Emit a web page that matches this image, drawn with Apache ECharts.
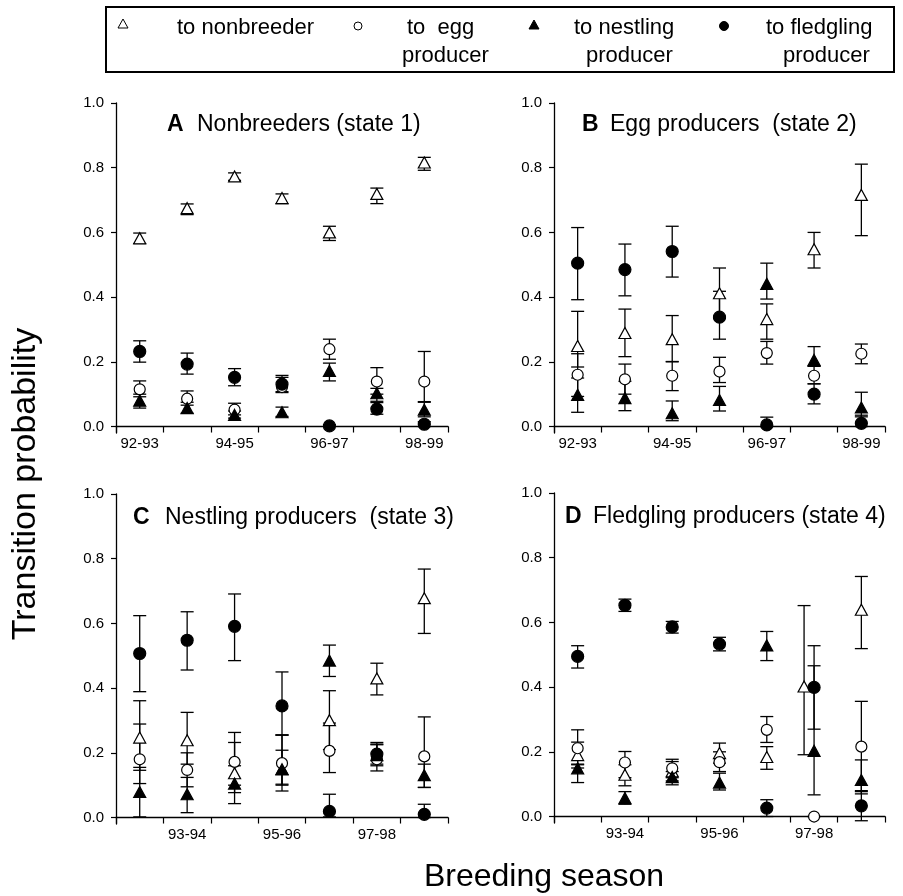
<!DOCTYPE html>
<html>
<head>
<meta charset="utf-8">
<script src="https://cdn.jsdelivr.net/npm/echarts@6/dist/echarts.min.js"></script>
<style>
  html, body { margin: 0; padding: 0; background: #fff; }
  #chart { width: 903px; height: 896px; }
</style>
</head>
<body>
<div id="chart"></div>
<script>
// breeding seasons (x categories)
const seasons = ['92-93', '93-94', '94-95', '95-96', '96-97', '97-98', '98-99']
const yTicks = [0, 0.2, 0.4, 0.6, 0.8, 1.0]

// each entry: [estimate, lower bar, upper bar]
// A  Nonbreeders (state 1)
const aNon   = [[0.582, 0.565, 0.598], [0.675, 0.655, 0.688], [0.773, 0.761, 0.784], [0.706, 0.689, 0.719], [0.600, 0.575, 0.619], [0.719, 0.689, 0.737], [0.816, 0.792, 0.832]]
const aEgg   = [[0.115, 0.092, 0.141], [0.086, 0.066, 0.110], [0.052, 0.036, 0.072], [0.122, 0.105, 0.158], [0.239, 0.208, 0.270], [0.139, 0.100, 0.182], [0.139, 0.077, 0.232]]
const aNest  = [[0.080, 0.057, 0.100], [0.057, 0.041, 0.075], [0.036, 0.026, 0.048], [0.044, 0.031, 0.060], [0.172, 0.141, 0.196], [0.103, 0.078, 0.118], [0.052, 0.030, 0.075]]
const aFledg = [[0.232, 0.199, 0.265], [0.193, 0.162, 0.227], [0.152, 0.126, 0.179], [0.131, 0.108, 0.152], [0.002, 0.000, 0.006], [0.054, 0.038, 0.074], [0.007, 0.000, 0.015]]

// B  Egg producers (state 2)
const bNon   = [[0.249, 0.184, 0.356], [0.289, 0.216, 0.363], [0.270, 0.201, 0.343], [0.412, 0.334, 0.490], [0.332, 0.270, 0.379], [0.548, 0.490, 0.600], [0.716, 0.590, 0.811]]
const bEgg   = [[0.160, 0.093, 0.225], [0.146, 0.100, 0.193], [0.157, 0.111, 0.200], [0.170, 0.136, 0.214], [0.227, 0.193, 0.263], [0.157, 0.132, 0.186], [0.225, 0.194, 0.255]]
const bNest  = [[0.098, 0.044, 0.150], [0.088, 0.049, 0.140], [0.041, 0.018, 0.079], [0.082, 0.048, 0.124], [0.441, 0.394, 0.505], [0.206, 0.186, 0.247], [0.059, 0.030, 0.106]]
const bFledg = [[0.505, 0.392, 0.615], [0.485, 0.404, 0.564], [0.541, 0.462, 0.619], [0.338, 0.270, 0.418], [0.005, 0.000, 0.029], [0.100, 0.070, 0.132], [0.010, 0.000, 0.035]]

// C  Nestling producers (state 3)
const cNon   = [[0.247, 0.146, 0.361], [0.239, 0.165, 0.325], [0.137, 0.077, 0.232], [0.150, 0.100, 0.255], [0.301, 0.210, 0.392], [0.430, 0.379, 0.477], [0.678, 0.569, 0.768]]
const cEgg   = [[0.180, 0.105, 0.289], [0.147, 0.095, 0.200], [0.172, 0.100, 0.263], [0.168, 0.103, 0.208], [0.206, 0.139, 0.292], [0.180, 0.144, 0.227], [0.189, 0.093, 0.311]]
const cNest  = [[0.079, 0.002, 0.155], [0.072, 0.015, 0.124], [0.105, 0.043, 0.160], [0.149, 0.082, 0.255], [0.485, 0.436, 0.533], [0.193, 0.165, 0.232], [0.131, 0.093, 0.165]]
const cFledg = [[0.507, 0.389, 0.624], [0.548, 0.456, 0.636], [0.591, 0.485, 0.691], [0.345, 0.255, 0.450], [0.019, 0.002, 0.072], [0.196, 0.160, 0.225], [0.010, 0.000, 0.041]]

// D  Fledgling producers (state 4)
const dNon   = [[0.190, 0.150, 0.230], [0.129, 0.095, 0.160], [0.140, 0.110, 0.170], [0.196, 0.165, 0.227], [0.184, 0.146, 0.216], [0.402, 0.191, 0.652], [0.639, 0.519, 0.742]]
const dEgg   = [[0.211, 0.160, 0.268], [0.167, 0.120, 0.201], [0.149, 0.120, 0.177], [0.168, 0.139, 0.200], [0.268, 0.229, 0.309], [0.000, 0.000, 0.000], [0.216, 0.070, 0.356]]
const dNest  = [[0.149, 0.105, 0.162], [0.057, 0.038, 0.077], [0.122, 0.098, 0.139], [0.105, 0.082, 0.134], [0.529, 0.482, 0.572], [0.203, 0.067, 0.466], [0.113, 0.077, 0.175]]
const dFledg = [[0.495, 0.459, 0.528], [0.653, 0.634, 0.672], [0.586, 0.567, 0.603], [0.533, 0.512, 0.554], [0.026, 0.000, 0.052], [0.399, 0.270, 0.528], [0.033, -0.013, 0.080]]

const FONT = '"Liberation Sans", Arial, Helvetica, sans-serif'

// marker styles, in legend order
const dests = [
  { name: 'to nonbreeder', symbol: 'triangle', size: [12, 11], fill: '#fff' },
  { name: 'to egg producer', symbol: 'circle', size: 11, fill: '#fff' },
  { name: 'to nestling producer', symbol: 'triangle', size: [12, 11], fill: '#000' },
  { name: 'to fledgling producer', symbol: 'circle', size: 12, fill: '#000' }
]

const panels = [
  { letter: 'A', name: 'Nonbreeders (state 1)', grid: { left: 116, top: 103, width: 332, height: 330 }, odd: false, lx: 167, nx: 197, ty: 125, sets: [aNon, aEgg, aNest, aFledg] },
  { letter: 'B', name: 'Egg producers  (state 2)', grid: { left: 554, top: 103, width: 331, height: 330 }, odd: false, lx: 582, nx: 610, ty: 125, sets: [bNon, bEgg, bNest, bFledg] },
  { letter: 'C', name: 'Nestling producers  (state 3)', grid: { left: 116, top: 494, width: 332, height: 330 }, odd: true, lx: 133, nx: 165, ty: 518, sets: [cNon, cEgg, cNest, cFledg] },
  { letter: 'D', name: 'Fledgling producers (state 4)', grid: { left: 554, top: 493, width: 331, height: 330 }, odd: true, lx: 565, nx: 593, ty: 517, sets: [dNon, dEgg, dNest, dFledg] }
]

// overlapping point drawn a little to the left (panel D, to nonbreeder, 97-98)
const nudge = { panel: 3, dest: 0, index: 5, px: -10 }

function shiftOf(p, d, i) {
  return (p === nudge.panel && d === nudge.dest && i === nudge.index) ? nudge.px : 0
}

// error bar with caps
function errorBar(params, api) {
  const lo = api.coord([api.value(0), api.value(1)])
  const hi = api.coord([api.value(0), api.value(2)])
  const x = lo[0] + api.value(3)
  const cap = 6.5
  const style = { stroke: '#000', lineWidth: 1.3 }
  return {
    type: 'group',
    children: [
      { type: 'line', shape: { x1: x, y1: lo[1], x2: x, y2: hi[1] }, style },
      { type: 'line', shape: { x1: x - cap, y1: lo[1], x2: x + cap, y2: lo[1] }, style },
      { type: 'line', shape: { x1: x - cap, y1: hi[1], x2: x + cap, y2: hi[1] }, style }
    ]
  }
}

const chart = echarts.init(document.getElementById('chart'))

const grids = [], xAxes = [], yAxes = [], series = [], graphics = []

panels.forEach((p, pi) => {
  grids.push(p.grid)
  xAxes.push({
    type: 'category',
    gridIndex: pi,
    data: seasons,
    boundaryGap: true,
    axisLine: { lineStyle: { color: '#000', width: 1.3 } },
    axisTick: { show: true, interval: 0, alignWithLabel: false, length: 6, lineStyle: { color: '#000', width: 1.2 } },
    axisLabel: {
      interval: (idx) => p.odd ? idx % 2 === 1 : idx % 2 === 0,
      color: '#000', fontSize: 15, fontFamily: FONT, margin: 3
    },
    splitLine: { show: false }
  })
  yAxes.push({
    type: 'value',
    gridIndex: pi,
    min: -0.02,
    max: 1,
    axisLine: { show: true, lineStyle: { color: '#000', width: 1.3 } },
    axisTick: { show: true, customValues: yTicks, length: 5, lineStyle: { color: '#000', width: 1.2 } },
    axisLabel: {
      customValues: yTicks,
      formatter: (v) => v.toFixed(1),
      color: '#000', fontSize: 15, fontFamily: FONT, margin: 12
    },
    splitLine: { show: false }
  })

  // error bars first, markers on top
  p.sets.forEach((set, di) => {
    series.push({
      type: 'custom',
      xAxisIndex: pi,
      yAxisIndex: pi,
      renderItem: errorBar,
      encode: { x: 0, y: [1, 2] },
      data: set.map((r, i) => [i, r[1], r[2], shiftOf(pi, di, i)]),
      z: 2,
      silent: true
    })
  })
  p.sets.forEach((set, di) => {
    const d = dests[di]
    series.push({
      type: 'scatter',
      name: d.name,
      xAxisIndex: pi,
      yAxisIndex: pi,
      symbol: d.symbol,
      symbolSize: d.size,
      itemStyle: { color: d.fill, borderColor: '#000', borderWidth: 1.2, opacity: 1 },
      data: set.map((r, i) => {
        const s = shiftOf(pi, di, i)
        return s ? { value: [i, r[0]], symbolOffset: [s, 0] } : [i, r[0]]
      }),
      z: 3,
      silent: true
    })
  })

  // panel heading
  graphics.push({
    type: 'text', x: p.lx, y: p.ty,
    style: { text: p.letter, font: `bold 23px ${FONT}`, fill: '#000', verticalAlign: 'middle' }
  })
  graphics.push({
    type: 'text', x: p.nx, y: p.ty,
    style: { text: p.name, font: `23px ${FONT}`, fill: '#000', verticalAlign: 'middle' }
  })
})

// legend box
const legendText = [
  { x: 177, y: 28, t: 'to nonbreeder' },
  { x: 407, y: 28, t: 'to  egg' },
  { x: 402, y: 56, t: 'producer' },
  { x: 574, y: 28, t: 'to nestling' },
  { x: 586, y: 56, t: 'producer' },
  { x: 766, y: 28, t: 'to fledgling' },
  { x: 783, y: 56, t: 'producer' }
]
graphics.push({
  type: 'rect',
  shape: { x: 106, y: 7, width: 788, height: 65 },
  style: { fill: 'none', stroke: '#000', lineWidth: 2 }
})
legendText.forEach((l) => {
  graphics.push({
    type: 'text', x: l.x, y: l.y,
    style: { text: l.t, font: `22px ${FONT}`, fill: '#000', verticalAlign: 'middle' }
  })
})
// legend keys
const keyPos = [[123, 24], [358, 26], [534, 25], [724, 26]]
dests.forEach((d, i) => {
  const [kx, ky] = keyPos[i]
  if (d.symbol === 'circle') {
    graphics.push({ type: 'circle', shape: { cx: kx, cy: ky, r: d.fill === '#000' ? 4.5 : 4 }, style: { fill: d.fill, stroke: '#000', lineWidth: 1 } })
  } else {
    graphics.push({ type: 'polygon', shape: { points: [[kx, ky - 5], [kx + 5, ky + 4], [kx - 5, ky + 4]] }, style: { fill: d.fill, stroke: '#000', lineWidth: 1 } })
  }
})

// axis titles
graphics.push({
  type: 'text', x: 26, y: 484, rotation: Math.PI / 2,
  style: { text: 'Transition probability', font: `34px ${FONT}`, fill: '#000', align: 'center', verticalAlign: 'middle' }
})
graphics.push({
  type: 'text', x: 544, y: 877,
  style: { text: 'Breeding season', font: `32px ${FONT}`, fill: '#000', align: 'center', verticalAlign: 'middle' }
})

const option = {
  animation: false,
  backgroundColor: '#fff',
  grid: grids,
  xAxis: xAxes,
  yAxis: yAxes,
  series: series,
  graphic: graphics
}

chart.setOption(option)

window.onresize = () => {
  chart.resize()
}
</script>
</body>
</html>
